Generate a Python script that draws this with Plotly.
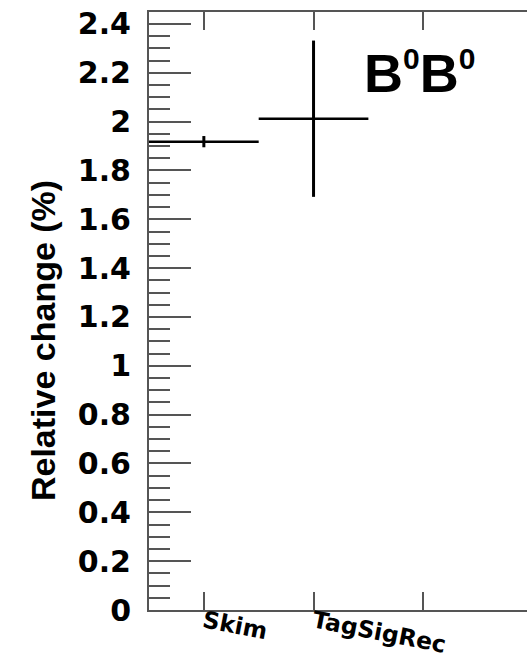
import plotly.graph_objects as go

# Relative change per selection step (%)
steps = ["Skim", "TagSigRec"]
step_pos = [0, 1]
rel_change = [1.918, 2.012]
rel_change_err = [0.023, 0.320]
bin_half_width = [0.5, 0.5]

y_ticks = [0, 0.2, 0.4, 0.6, 0.8, 1, 1.2, 1.4, 1.6, 1.8, 2, 2.2, 2.4]
y_tick_text = ["0", "0.2", "0.4", "0.6", "0.8", "1", "1.2", "1.4", "1.6", "1.8", "2", "2.2", "2.4"]

axis_grey = "#555555"

fig = go.Figure()
fig.add_trace(go.Scatter(
    x=step_pos,
    y=rel_change,
    mode="markers",
    marker=dict(size=0.1, color="black"),
    error_x=dict(type="data", array=bin_half_width, width=0, thickness=2.5, color="black"),
    error_y=dict(type="data", array=rel_change_err, width=0, thickness=3, color="black"),
    showlegend=False,
    hoverinfo="skip",
))

fig.update_layout(
    width=527,
    height=661,
    margin=dict(l=149, r=0, t=12, b=51),
    paper_bgcolor="white",
    plot_bgcolor="white",
    xaxis=dict(
        range=[-0.5, 2.946],
        tickmode="array",
        tickvals=step_pos,
        ticktext=steps,
        ticks="inside",
        ticklen=18,
        tickwidth=2,
        tickcolor=axis_grey,
        showline=True,
        linewidth=2,
        linecolor=axis_grey,
        mirror="ticks",
        showgrid=False,
        zeroline=False,
        automargin=False,
        tickangle=11,
        ticklabelstandoff=-13,
        tickfont=dict(family="DejaVu Sans", size=23.5, color="black", weight="bold"),
        # one bin tick per step, also where no label is printed
        minor=dict(tick0=0, dtick=1, ticks="inside", ticklen=18, tickwidth=2, tickcolor=axis_grey, showgrid=False),
    ),
    yaxis=dict(
        range=[0, 2.449],
        tickmode="array",
        tickvals=y_ticks,
        ticktext=y_tick_text,
        ticks="inside",
        ticklen=42,
        tickwidth=2,
        tickcolor=axis_grey,
        showline=True,
        linewidth=2,
        linecolor=axis_grey,
        showgrid=False,
        zeroline=False,
        automargin=False,
        ticklabelstandoff=10,
        tickfont=dict(family="DejaVu Sans", size=30, color="black", weight="bold"),
        minor=dict(dtick=0.05, ticks="inside", ticklen=21, tickwidth=2, tickcolor=axis_grey, showgrid=False),
    ),
    annotations=[
        dict(
            text="Relative change (%)",
            xref="paper", yref="paper",
            x=-0.28, y=0.45,
            xanchor="center", yanchor="middle",
            textangle=-90,
            showarrow=False,
            font=dict(family="Liberation Sans", size=34, color="black", weight="bold"),
        ),
        dict(
            text="B<sup><span style='font-size:30px'>0</span></sup>B<sup><span style='font-size:30px'>0</span></sup>",
            xref="paper", yref="paper",
            x=(362 - 149) / 378, y=(610 - 72) / 598,
            xanchor="left", yanchor="middle",
            showarrow=False,
            font=dict(family="Liberation Sans", size=54, color="black", weight="bold"),
        ),
    ],
)

fig.write_html("out.html")
